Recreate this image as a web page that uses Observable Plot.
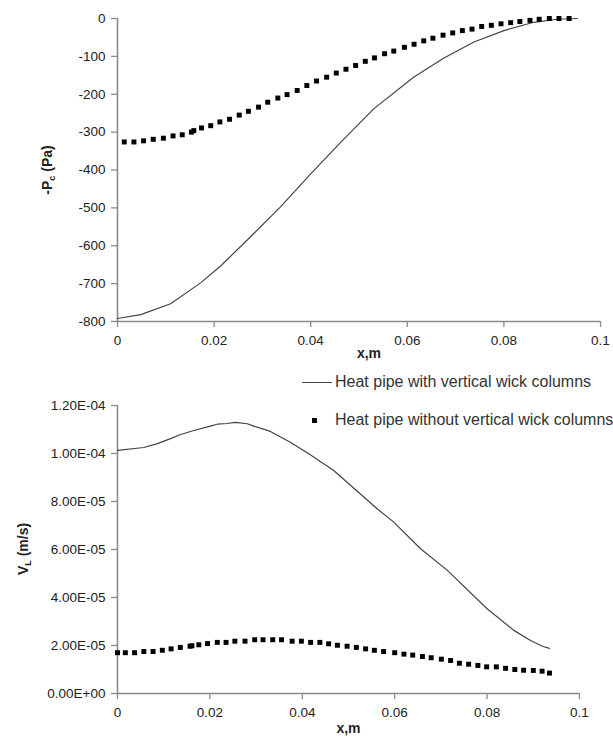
<!DOCTYPE html>
<html>
<head>
<meta charset="utf-8">
<script src="https://cdn.jsdelivr.net/npm/d3@7"></script>
<script src="https://cdn.jsdelivr.net/npm/@observablehq/plot@0.6"></script>
<style>
  html, body { margin: 0; padding: 0; background: #fff; }
  #wrap { position: relative; width: 613px; height: 740px; overflow: hidden; font-family: "Liberation Sans", Arial, sans-serif; }
  #top, #bottom { position: absolute; left: 0; z-index: 1; }
  #top { top: 0; }
  #bottom { top: 395px; }
  .leg { position: absolute; left: 0; width: 613px; height: 20px; z-index: 3; font-size: 16px; color: #333; white-space: nowrap; }
  .leg .txt { position: absolute; left: 335px; top: 0; line-height: 18px; }
  .leg .ln { position: absolute; left: 302px; top: 9px; width: 30px; height: 0; border-top: 1.3px solid #444; }
  .leg .sq { position: absolute; left: 312px; top: 7px; width: 5px; height: 5px; background: #000; }
</style>
</head>
<body>
<div id="wrap">
  <div id="top"></div>
  <div id="bottom"></div>
  <div class="leg" style="top:373px;"><span class="ln"></span><span class="txt">Heat pipe with vertical wick columns</span></div>
  <div class="leg" style="top:411px;"><span class="sq"></span><span class="txt">Heat pipe without vertical wick columns</span></div>
</div>
<script>
// ---------- Top panel: -Pc (Pa) ----------
const topWithX = [0, 0.0048, 0.011, 0.0172, 0.0213, 0.0275, 0.0337, 0.040, 0.0465, 0.0531, 0.0613, 0.0675, 0.0738, 0.080, 0.0862, 0.0910, 0.0952];
const topWithP = [-792, -782, -753, -698, -654, -577, -498, -410, -323, -238, -155, -105, -62, -32, -10, -2, 0];

const topWithoutX = [0.0014, 0.0034, 0.0054, 0.0074, 0.0095, 0.0115, 0.0134, 0.0153, 0.0158, 0.0174, 0.0193, 0.0212, 0.0232, 0.0252, 0.0271, 0.0292, 0.0311, 0.0332, 0.0351, 0.0372, 0.0392, 0.0412, 0.0433, 0.0453, 0.0473, 0.0493, 0.0513, 0.0532, 0.0553, 0.0572, 0.0594, 0.0614, 0.0634, 0.0653, 0.0674, 0.0694, 0.0714, 0.0734, 0.0754, 0.0774, 0.0794, 0.0814, 0.0833, 0.0854, 0.0873, 0.0894, 0.0914, 0.0935];
const topWithoutP = [-326, -326, -323, -319, -316, -310, -307, -300, -296, -289, -283, -273, -266, -255, -245, -234, -221, -210, -201, -190, -177, -165, -155, -144, -134, -124, -113, -104, -93, -86, -76, -68, -59, -52, -44, -38, -32, -28, -21, -18, -14, -11, -8, -5, -2, 0, 0, 0];

const topXTicks = [0, 0.02, 0.04, 0.06, 0.08, 0.1];
const topXTickLabels = ["0", "0.02", "0.04", "0.06", "0.08", "0.1"];
const topYTicks = [0, -100, -200, -300, -400, -500, -600, -700, -800];
const topYTickLabels = ["0", "-100", "-200", "-300", "-400", "-500", "-600", "-700", "-800"];

// ---------- Bottom panel: VL (m/s) ----------
const botWithX = [0, 0.0057, 0.0085, 0.0115, 0.0135, 0.0165, 0.0201, 0.0216, 0.0237, 0.0255, 0.0281, 0.0295, 0.0331, 0.0374, 0.0414, 0.0468, 0.0562, 0.0598, 0.0656, 0.0714, 0.0800, 0.0858, 0.0894, 0.0920, 0.0935];
const botWithV = [10.13e-5, 10.25e-5, 10.40e-5, 10.62e-5, 10.78e-5, 10.96e-5, 11.14e-5, 11.22e-5, 11.25e-5, 11.30e-5, 11.24e-5, 11.14e-5, 10.92e-5, 10.47e-5, 9.99e-5, 9.29e-5, 7.70e-5, 7.14e-5, 6.03e-5, 5.13e-5, 3.53e-5, 2.63e-5, 2.21e-5, 1.97e-5, 1.88e-5];

const botWithoutX = [0, 0.0017, 0.0037, 0.0057, 0.0077, 0.0097, 0.0116, 0.0136, 0.0157, 0.0161, 0.0176, 0.0195, 0.0216, 0.0235, 0.0254, 0.0276, 0.0297, 0.0315, 0.0336, 0.0355, 0.0378, 0.0398, 0.0418, 0.0438, 0.0457, 0.0476, 0.0497, 0.0517, 0.0537, 0.0556, 0.0576, 0.0600, 0.0620, 0.0639, 0.0660, 0.0679, 0.0701, 0.0721, 0.0740, 0.0760, 0.0780, 0.0799, 0.0820, 0.0840, 0.0860, 0.0879, 0.0900, 0.0919, 0.0935];
const botWithoutV = [1.70e-5, 1.70e-5, 1.70e-5, 1.75e-5, 1.75e-5, 1.80e-5, 1.86e-5, 1.92e-5, 1.97e-5, 1.99e-5, 2.03e-5, 2.08e-5, 2.13e-5, 2.13e-5, 2.18e-5, 2.18e-5, 2.24e-5, 2.24e-5, 2.24e-5, 2.24e-5, 2.18e-5, 2.18e-5, 2.13e-5, 2.13e-5, 2.07e-5, 2.01e-5, 1.97e-5, 1.92e-5, 1.86e-5, 1.80e-5, 1.75e-5, 1.70e-5, 1.64e-5, 1.60e-5, 1.54e-5, 1.49e-5, 1.43e-5, 1.375e-5, 1.26e-5, 1.22e-5, 1.17e-5, 1.11e-5, 1.11e-5, 1.05e-5, 1.00e-5, 0.97e-5, 0.96e-5, 0.93e-5, 0.85e-5];

const botXTicks = [0, 0.02, 0.04, 0.06, 0.08, 0.1];
const botXTickLabels = ["0", "0.02", "0.04", "0.06", "0.08", "0.1"];
const botYTicks = [0, 2e-5, 4e-5, 6e-5, 8e-5, 1e-4, 1.2e-4];
const botYTickLabels = ["0.00E+00", "2.00E-05", "4.00E-05", "6.00E-05", "8.00E-05", "1.00E-04", "1.20E-04"];

// ---------- build tables ----------
const topWith = topWithX.map((x, i) => ({x, y: topWithP[i]}));
const topWithout = topWithoutX.map((x, i) => ({x, y: topWithoutP[i]}));
const botWith = botWithX.map((x, i) => ({x, y: botWithV[i]}));
const botWithout = botWithoutX.map((x, i) => ({x, y: botWithoutV[i]}));

const labelFrom = (ticks, labels) => (d) => labels[ticks.findIndex(t => Math.abs(t - d) < 1e-12)] ?? String(d);

const axisGray = "#8a8a8a";
const textCol = "#222";
const font = "'Liberation Sans', Arial, sans-serif";

function panel({width, height, marginTop, marginBottom, marginLeft, marginRight, xDomain, yDomain, xTicks, xLabels, yTicks, yLabels, withData, withoutData, xLabelDx, xLabelDy}) {
  return Plot.plot({
    width, height, marginTop, marginBottom, marginLeft, marginRight,
    style: {fontFamily: font, fontSize: "13.5px", color: textCol, background: "transparent", overflow: "visible"},
    x: {domain: xDomain},
    y: {domain: yDomain},
    marks: [
      Plot.axisX({ticks: xTicks, tickFormat: labelFrom(xTicks, xLabels), tickSize: 6, tickPadding: 8, stroke: axisGray, strokeWidth: 1.3, fill: textCol, label: null}),
      Plot.axisY({ticks: yTicks, tickFormat: labelFrom(yTicks, yLabels), tickSize: 6, tickPadding: 6, stroke: axisGray, strokeWidth: 1.3, fill: textCol, label: null}),
      Plot.ruleX([xDomain[0]], {stroke: axisGray, strokeWidth: 1.6}),
      Plot.ruleY([yDomain[0]], {stroke: axisGray, strokeWidth: 1.6}),
      Plot.line(withData, {x: "x", y: "y", stroke: "#444", strokeWidth: 1.2}),
      Plot.dot(withoutData, {x: "x", y: "y", symbol: "square", r: 2.8, fill: "#000", stroke: "none"}),
      Plot.text(["x,m"], {text: d => d, frameAnchor: "bottom", dy: xLabelDy, dx: xLabelDx, fontWeight: "bold", fontSize: 14, fill: textCol})
    ]
  });
}

const topSvg = panel({
  width: 613, height: 370, marginTop: 18, marginBottom: 49, marginLeft: 117, marginRight: 13,
  xDomain: [0, 0.1], yDomain: [-800, 0],
  xTicks: topXTicks, xLabels: topXTickLabels, yTicks: topYTicks, yLabels: topYTickLabels,
  withData: topWith, withoutData: topWithout, xLabelDx: 10, xLabelDy: 36
});
document.getElementById("top").appendChild(topSvg);
{
  const t = d3.select(topSvg).append("text")
    .attr("transform", "translate(52,170) rotate(-90)")
    .attr("text-anchor", "middle").attr("font-weight", "bold").attr("font-size", 14)
    .attr("font-family", font).attr("fill", textCol);
  t.append("tspan").text("-P");
  t.append("tspan").attr("font-size", 9).attr("dy", 3).text("c");
  t.append("tspan").attr("dy", -3).text(" (Pa)");
}

const botSvg = panel({
  width: 613, height: 345, marginTop: 10, marginBottom: 47, marginLeft: 117, marginRight: 34,
  xDomain: [0, 0.1], yDomain: [0, 1.2e-4],
  xTicks: botXTicks, xLabels: botXTickLabels, yTicks: botYTicks, yLabels: botYTickLabels,
  withData: botWith, withoutData: botWithout, xLabelDx: 0, xLabelDy: 39
});
document.getElementById("bottom").appendChild(botSvg);
{
  const t = d3.select(botSvg).append("text")
    .attr("transform", "translate(28,154) rotate(-90)")
    .attr("text-anchor", "middle").attr("font-weight", "bold").attr("font-size", 14)
    .attr("font-family", font).attr("fill", textCol);
  t.append("tspan").text("V");
  t.append("tspan").attr("font-size", 9).attr("dy", 3).text("L");
  t.append("tspan").attr("dy", -3).text(" (m/s)");
}
</script>
</body>
</html>
